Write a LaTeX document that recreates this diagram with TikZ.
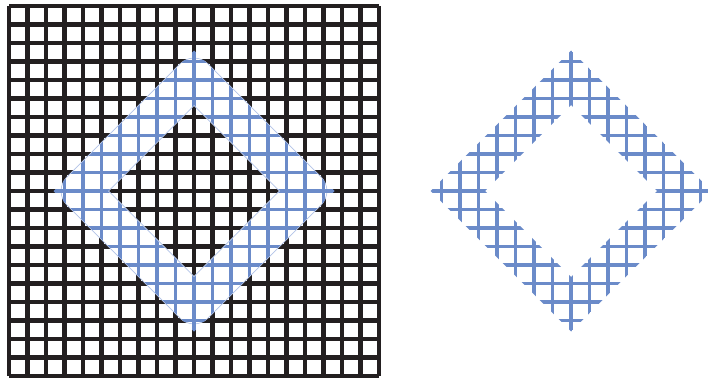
\documentclass[tikz,border=0pt]{standalone}
\definecolor{gridblack}{HTML}{231F20}
\definecolor{ringblue}{HTML}{6B8BC9}
\definecolor{haloblue}{HTML}{B3C4E8}
\begin{document}
\begin{tikzpicture}[x=1pt,y=-1pt,
  blackgrid/.style={line width=4.2pt, draw=gridblack, line cap=square},
  bluegrid/.style={line width=3.3pt, draw=ringblue, line cap=butt},
  ringfill/.style={draw=white, line width=38.5pt, line join=round},
  ringhalo/.style={draw=haloblue, line width=40pt, line join=round}]
\useasboundingbox (0,0) rectangle (708,383);
% black grid
\foreach \i in {0,...,20} {
  \draw[blackgrid] ({9+18.5*\i},6) -- ({9+18.5*\i},376);
  \draw[blackgrid] (9,{6+18.5*\i}) -- (379,{6+18.5*\i});
}
% white ring over the black grid
\draw[ringhalo] (194,{191-113.25}) -- ({194+113.25},191) -- (194,{191+113.25}) -- ({194-113.25},191) -- cycle;
\draw[ringfill] (194,{191-113.25}) -- ({194+113.25},191) -- (194,{191+113.25}) -- ({194-113.25},191) -- cycle;
% blue grids clipped to the ring
\foreach \cx in {194,571} {
  \begin{scope}
    \clip (\cx,{191-140.5}) -- ({\cx+140.5},191) -- (\cx,{191+140.5}) -- ({\cx-140.5},191) -- cycle
          (\cx,{191-86}) -- ({\cx-86},191) -- (\cx,{191+86}) -- ({\cx+86},191) -- cycle;
    \foreach \k in {-8,...,8} {
      \draw[bluegrid] ({\cx+18.5*\k},40) -- ({\cx+18.5*\k},345);
      \draw[bluegrid] ({\cx-155},{191+18.5*\k}) -- ({\cx+155},{191+18.5*\k});
    }
  \end{scope}
}
\end{tikzpicture}
\end{document}
